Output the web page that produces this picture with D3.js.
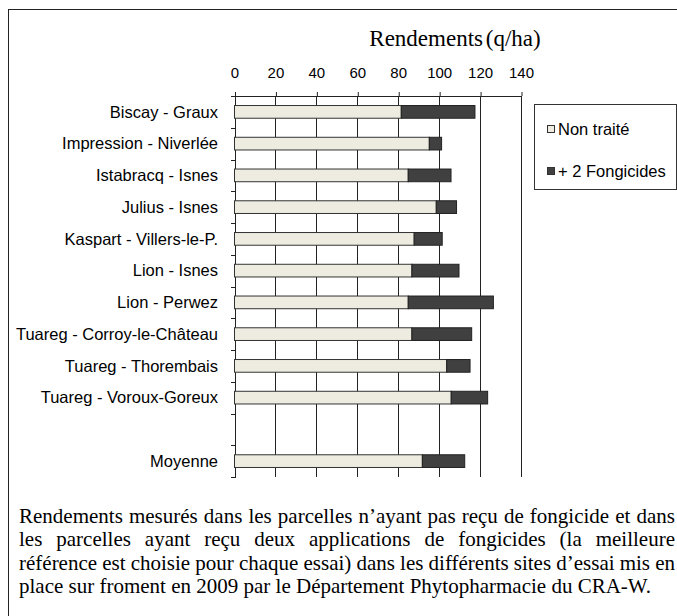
<!DOCTYPE html>
<html lang="fr">
<head>
  <meta charset="utf-8">
  <title>Rendements (q/ha)</title>
  <style>
    body { margin: 0; background: #fff; }
    svg { display: block; }
    .tick text, .cat, .legend text { font-family: "Liberation Sans", Arial, sans-serif; fill: #000; }
    .serif { font-family: "Liberation Serif", "Times New Roman", serif; fill: #000; }
  </style>
</head>
<body>
  <div id="chart"></div>

  <script src="https://d3js.org/d3.v7.min.js"></script>
  <script>
    // Essais (variété - site), un vide avant la moyenne
    var categories = [
      "Biscay - Graux",
      "Impression - Niverlée",
      "Istabracq - Isnes",
      "Julius - Isnes",
      "Kaspart - Villers-le-P.",
      "Lion - Isnes",
      "Lion - Perwez",
      "Tuareg - Corroy-le-Château",
      "Tuareg - Thorembais",
      "Tuareg - Voroux-Goreux",
      "",
      "Moyenne"
    ];

    // rendement sans fongicide (q/ha)
    var nonTraite = [81.5, 95.2, 84.9, 98.6, 87.8, 86.7, 84.9, 86.7, 103.7, 105.9, null, 91.8];
    // gain apporté par 2 fongicides (q/ha)
    var gainFongicides = [36.0, 6.0, 20.9, 9.9, 13.7, 23.0, 41.6, 29.2, 11.4, 17.8, null, 20.7];

    var seriesNames = ["Non traité", "+ 2 Fongicides"];
    var xTicks = [0, 20, 40, 60, 80, 100, 120, 140];

    var caption = [
      "Rendements mesurés dans les parcelles n’ayant pas reçu de fongicide et dans",
      "les parcelles ayant reçu deux applications de fongicides (la meilleure",
      "référence est choisie pour chaque essai) dans les différents sites d’essai mis en",
      "place sur froment en 2009 par le Département Phytopharmacie du CRA-W."
    ];

    var colors = ["#eeece1", "#404040"];

    var W = 677, H = 616;
    var plot = { left: 234.5, right: 521, top: 96, bottom: 477 };

    var svg = d3.select("#chart").append("svg")
        .attr("width", W)
        .attr("height", H);

    // cadre
    svg.append("rect")
        .attr("x", 8.5).attr("y", 9.5)
        .attr("width", 700).attr("height", 700)
        .attr("fill", "none")
        .attr("stroke", "#222");

    var x = d3.scaleLinear()
        .domain([0, 140])
        .range([plot.left, plot.right]);

    var y = d3.scaleBand()
        .domain(categories.map(function(d, i) { return i; }))
        .range([plot.top, plot.bottom]);

    var barH = y.bandwidth() * 0.4;

    // grille verticale
    svg.append("g").selectAll("line")
        .data(xTicks)
        .enter().append("line")
        .attr("x1", function(d) { return Math.round(x(d)) + 0.5; })
        .attr("x2", function(d) { return Math.round(x(d)) + 0.5; })
        .attr("y1", plot.top)
        .attr("y2", plot.bottom)
        .attr("stroke", "#222");

    // axe du haut
    var xAxis = svg.append("g")
        .attr("transform", "translate(0," + plot.top + ")")
        .call(d3.axisTop(x).tickValues(xTicks).tickSize(4).tickPadding(14));
    xAxis.select(".domain").remove();
    xAxis.selectAll(".tick line")
        .attr("transform", "translate(0.5,0)")
        .attr("stroke", "#222");
    xAxis.selectAll(".tick text").style("font-size", "15px");

    svg.append("line")
        .attr("x1", Math.round(plot.left)).attr("x2", Math.round(plot.right) + 1)
        .attr("y1", plot.top + 0.5).attr("y2", plot.top + 0.5)
        .attr("stroke", "#222");

    // axe des catégories
    var bounds = y.domain().map(function(d) { return y(d); }).concat([plot.bottom]);
    svg.append("line")
        .attr("x1", Math.round(plot.left) + 0.5).attr("x2", Math.round(plot.left) + 0.5)
        .attr("y1", plot.top).attr("y2", plot.bottom + 1)
        .attr("stroke", "#222");
    svg.append("g").selectAll("line")
        .data(bounds)
        .enter().append("line")
        .attr("x1", Math.round(plot.left) - 4)
        .attr("x2", Math.round(plot.left))
        .attr("y1", function(d) { return Math.round(d) + 0.5; })
        .attr("y2", function(d) { return Math.round(d) + 0.5; })
        .attr("stroke", "#222");

    svg.append("g").selectAll("text")
        .data(categories)
        .enter().append("text")
        .attr("class", "cat")
        .attr("x", 218)
        .attr("y", function(d, i) { return y(i) + y.bandwidth() / 2; })
        .attr("dy", "0.35em")
        .attr("text-anchor", "end")
        .style("font-size", "16.5px")
        .text(function(d) { return d; });

    // barres empilées
    var rows = categories.map(function(c, i) {
      return { i: i, a: nonTraite[i], b: gainFongicides[i] };
    }).filter(function(d) { return d.a != null; });

    var bars = svg.append("g").selectAll("g")
        .data(rows)
        .enter().append("g");

    bars.append("rect")
        .attr("x", x(0))
        .attr("y", function(d) { return y(d.i) + (y.bandwidth() - barH) / 2; })
        .attr("width", function(d) { return x(d.a) - x(0); })
        .attr("height", barH)
        .attr("fill", colors[0])
        .attr("stroke", "#333");

    bars.append("rect")
        .attr("x", function(d) { return x(d.a); })
        .attr("y", function(d) { return y(d.i) + (y.bandwidth() - barH) / 2; })
        .attr("width", function(d) { return x(d.a + d.b) - x(d.a); })
        .attr("height", barH)
        .attr("fill", colors[1])
        .attr("stroke", "#222");

    // titre
    svg.append("text")
        .attr("class", "serif")
        .attr("x", 455)
        .attr("y", 46)
        .attr("text-anchor", "middle")
        .style("font-size", "23px")
        .style("word-spacing", "-3px")
        .text("Rendements (q/ha)");

    // légende
    var legend = svg.append("g").attr("class", "legend");
    legend.append("rect")
        .attr("x", 534.5).attr("y", 104.5)
        .attr("width", 142).attr("height", 85)
        .attr("fill", "#fff")
        .attr("stroke", "#333");
    var items = legend.selectAll("g.item")
        .data(seriesNames)
        .enter().append("g")
        .attr("class", "item")
        .attr("transform", function(d, i) { return "translate(0," + (129 + i * 42) + ")"; });
    items.append("rect")
        .attr("x", 547.5).attr("y", -3.5)
        .attr("width", 7).attr("height", 7)
        .attr("fill", function(d, i) { return colors[i]; })
        .attr("stroke", "#333");
    items.append("text")
        .attr("x", 558)
        .attr("dy", "0.35em")
        .style("font-size", "16.5px")
        .text(function(d) { return d; });

    // légende de la figure, justifiée
    var capLeft = 19, capRight = 675;
    var capLines = svg.append("g").selectAll("text")
        .data(caption)
        .enter().append("text")
        .attr("class", "serif")
        .attr("x", capLeft)
        .attr("y", function(d, i) { return 523 + i * 23.3; })
        .style("font-size", "21px")
        .text(function(d) { return d; });

    capLines.each(function(d, i) {
      if (i === caption.length - 1) return;
      var len = this.getComputedTextLength();
      var gaps = d.split(" ").length - 1;
      d3.select(this).style("word-spacing", ((capRight - capLeft - len) / gaps) + "px");
    });
  </script>
</body>
</html>
